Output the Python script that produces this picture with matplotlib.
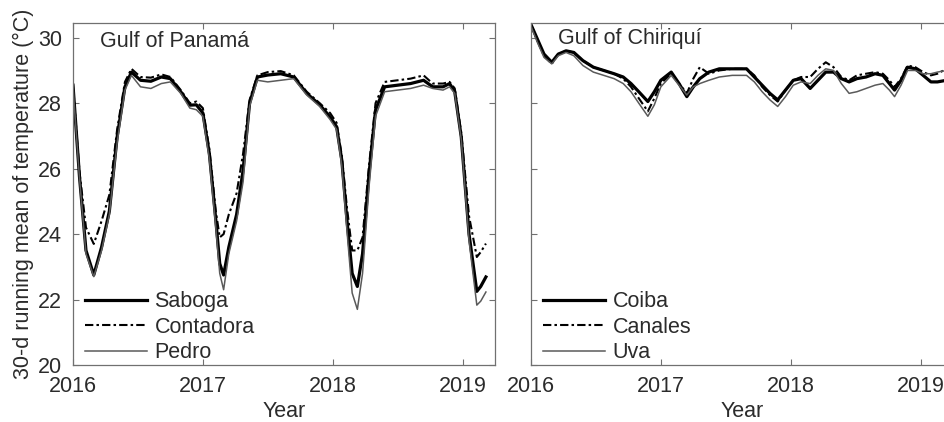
import matplotlib.pyplot as plt

plt.rcParams['font.family'] = ['Liberation Sans', 'DejaVu Sans']

# Gulf of Panama
t_pan = [2016.00, 2016.05, 2016.10, 2016.16, 2016.22, 2016.28, 2016.34, 2016.40, 2016.45, 2016.52,
         2016.60, 2016.68, 2016.75, 2016.83, 2016.90, 2016.95, 2017.00, 2017.05, 2017.10, 2017.13,
         2017.16, 2017.20, 2017.26, 2017.31, 2017.36, 2017.42, 2017.50, 2017.60, 2017.70, 2017.80,
         2017.90, 2017.98, 2018.03, 2018.07, 2018.11, 2018.15, 2018.19, 2018.23, 2018.28, 2018.33,
         2018.40, 2018.50, 2018.60, 2018.70, 2018.77, 2018.85, 2018.90, 2018.94, 2018.99, 2019.05,
         2019.11, 2019.14, 2019.18]
saboga = [28.55, 25.75, 23.5, 22.75, 23.6, 24.7, 26.97, 28.5, 28.95, 28.7,
          28.67, 28.8, 28.75, 28.35, 27.94, 27.95, 27.7, 26.46, 24.42, 23.1,
          22.75, 23.6, 24.6, 25.95, 28.0, 28.8, 28.86, 28.9, 28.8, 28.3,
          27.95, 27.58, 27.28, 26.26, 24.42, 22.8, 22.4, 23.4, 25.85, 27.79,
          28.5, 28.55, 28.6, 28.7, 28.5, 28.5, 28.6, 28.35, 26.97, 24.0,
          22.25, 22.4, 22.69]
contadora = [28.55, 25.9, 24.2, 23.7, 24.4, 25.2, 27.2, 28.65, 29.05, 28.8,
             28.78, 28.88, 28.8, 28.4, 28.0, 28.05, 27.85, 26.6, 24.7, 23.9,
             24.0, 24.6, 25.25, 26.46, 28.1, 28.85, 28.95, 28.98, 28.85, 28.35,
             28.0, 27.7, 27.4, 26.4, 24.8, 23.5, 23.5, 23.9, 26.1, 28.0,
             28.65, 28.7, 28.75, 28.85, 28.6, 28.6, 28.65, 28.45, 27.1, 24.55,
             23.3, 23.45, 23.71]
pedro = [28.5, 25.7, 23.4, 22.7, 23.5, 24.6, 26.8, 28.4, 28.85, 28.5,
         28.45, 28.6, 28.65, 28.3, 27.85, 27.8, 27.6, 26.3, 24.2, 22.8,
         22.3, 23.4, 24.4, 25.6, 27.9, 28.7, 28.65, 28.7, 28.75, 28.25,
         27.9, 27.5, 27.2, 26.1, 24.1, 22.2, 21.7, 22.8, 25.45, 27.6,
         28.35, 28.4, 28.45, 28.55, 28.45, 28.4, 28.5, 28.3, 26.9, 23.8,
         21.83, 21.95, 22.23]

# Gulf of Chiriqui
t_chi = [2016.00, 2016.05, 2016.10, 2016.16, 2016.21, 2016.27, 2016.33, 2016.40, 2016.48, 2016.56,
         2016.64, 2016.71, 2016.77, 2016.83, 2016.90, 2016.95, 2017.00, 2017.08, 2017.14, 2017.20,
         2017.25, 2017.30, 2017.37, 2017.45, 2017.55, 2017.66, 2017.72, 2017.78, 2017.84, 2017.90,
         2017.96, 2018.02, 2018.08, 2018.15, 2018.21, 2018.27, 2018.33, 2018.39, 2018.45, 2018.51,
         2018.58, 2018.65, 2018.71, 2018.76, 2018.80, 2018.85, 2018.90, 2018.96, 2019.02, 2019.08,
         2019.13, 2019.20]
coiba = [30.4, 29.95, 29.5, 29.25, 29.5, 29.6, 29.55, 29.3, 29.1, 29.0,
         28.9, 28.8, 28.6, 28.35, 28.05, 28.35, 28.7, 28.95, 28.6, 28.2,
         28.5, 28.75, 28.95, 29.05, 29.05, 29.05, 28.8, 28.55, 28.3, 28.1,
         28.4, 28.7, 28.75, 28.45, 28.7, 28.95, 28.95, 28.75, 28.65, 28.75,
         28.8, 28.9, 28.85, 28.6, 28.4, 28.7, 29.1, 29.05, 28.85, 28.65,
         28.65, 28.7]
canales = [30.4, 29.9, 29.45, 29.2, 29.5, 29.6, 29.55, 29.3, 29.1, 29.0,
           28.9, 28.75, 28.5, 28.15, 27.75, 28.15, 28.6, 28.9, 28.6, 28.3,
           28.75, 29.1, 28.9, 29.0, 29.05, 29.05, 28.85, 28.5, 28.25, 28.05,
           28.4, 28.7, 28.8, 28.8, 29.05, 29.25, 29.1, 28.8, 28.7, 28.85,
           28.9, 28.95, 28.9, 28.7, 28.5, 28.75, 29.15, 29.1, 28.95, 28.85,
           28.9, 29.05]
uva = [30.35, 29.85, 29.4, 29.2, 29.45, 29.55, 29.45, 29.15, 28.95, 28.85,
       28.75, 28.6, 28.35, 28.0, 27.6, 27.95, 28.5, 28.85, 28.55, 28.25,
       28.5, 28.6, 28.7, 28.8, 28.85, 28.85, 28.65, 28.35, 28.1, 27.9,
       28.2, 28.55, 28.65, 28.6, 28.85, 29.05, 29.0, 28.6, 28.3, 28.35,
       28.45, 28.55, 28.6, 28.4, 28.2, 28.55, 29.0, 29.0, 28.9, 28.9,
       28.95, 29.0]

year_ticks = [2016, 2017, 2018, 2019]
temp_ticks = [20, 22, 24, 26, 28, 30]

txt = '#2b2b2b'
spine = '#707070'
fs = 15.5

fig = plt.figure(figsize=(9.44, 4.22), dpi=100)
ax1 = fig.add_axes([73 / 944, 1 - 365 / 422, 422 / 944, 342 / 422])
ax2 = fig.add_axes([531 / 944, 1 - 365 / 422, 422 / 944, 342 / 422])

dashdot = (0, (4, 1.5, 1.2, 1.5))

ax1.plot(t_pan, saboga, color='black', lw=2.3, label='Saboga')
ax1.plot(t_pan, contadora, color='black', lw=1.5, linestyle=dashdot, label='Contadora')
ax1.plot(t_pan, pedro, color='#5a5a5a', lw=1.1, label='Pedro')

ax2.plot(t_chi, coiba, color='black', lw=2.3, label='Coiba')
ax2.plot(t_chi, canales, color='black', lw=1.5, linestyle=dashdot, label='Canales')
ax2.plot(t_chi, uva, color='#5a5a5a', lw=1.1, label='Uva')

for ax in (ax1, ax2):
    ax.set_xlim(2016, 2019.25)
    ax.set_ylim(20, 30.45)
    ax.set_xticks(year_ticks)
    ax.set_yticks(temp_ticks)
    ax.tick_params(direction='in', top=True, right=True, length=4, width=0.8,
                   color=spine, labelcolor=txt, labelsize=fs, pad=8)
    for s in ax.spines.values():
        s.set_color(spine)
        s.set_linewidth(0.9)
    ax.set_xlabel('Year', fontsize=fs, color=txt, labelpad=3)
    leg = ax.legend(loc='lower left', bbox_to_anchor=(0, -0.03), frameon=False,
                    fontsize=fs, handlelength=2.9, handletextpad=0.33,
                    labelspacing=0.21, borderaxespad=0.3, borderpad=0.25)
    for t in leg.get_texts():
        t.set_color(txt)

ax2.tick_params(labelleft=False)
ax1.set_ylabel('30-d running mean of temperature (°C)', fontsize=fs, color=txt, labelpad=3)

ax1.text(0.064, 0.978, 'Gulf of Panamá', transform=ax1.transAxes, fontsize=fs,
         color=txt, va='top', ha='left')
ax2.text(0.064, 0.985, 'Gulf of Chiriquí', transform=ax2.transAxes, fontsize=fs,
         color=txt, va='top', ha='left')

fig.savefig('out.png', dpi=100)
